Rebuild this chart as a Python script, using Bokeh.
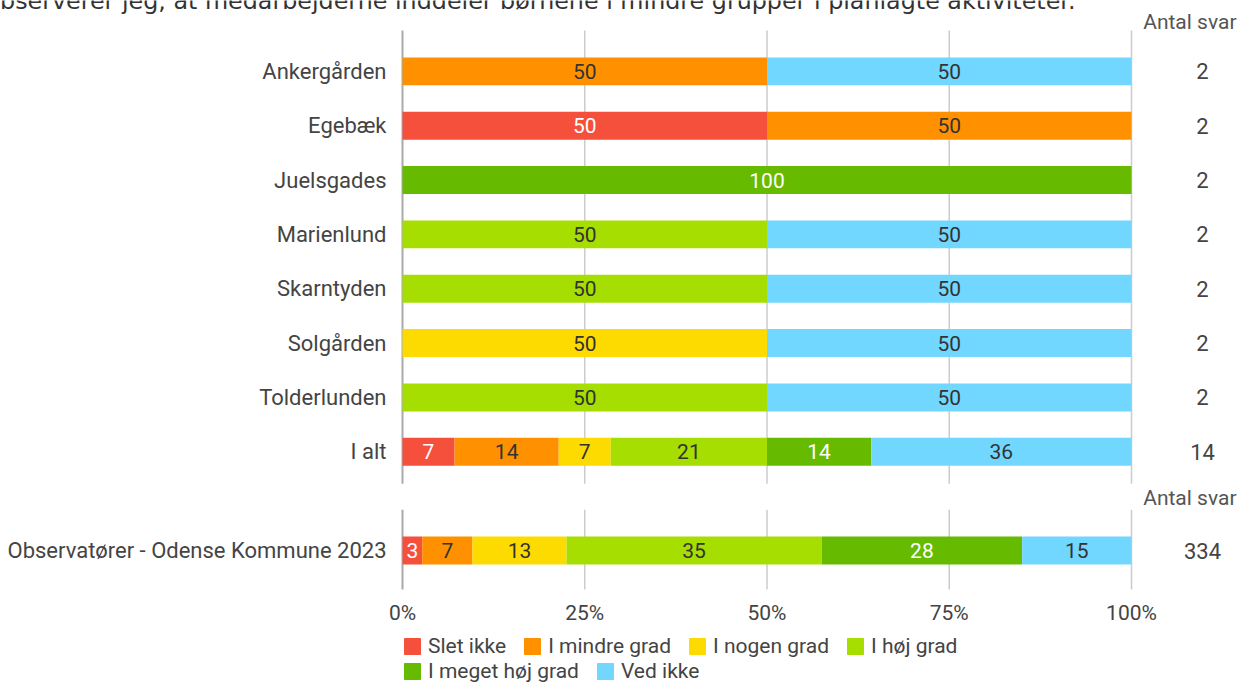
from bokeh.plotting import figure
from bokeh.layouts import column
from bokeh.models import (ColumnDataSource, Range1d, FixedTicker, PrintfTickFormatter,
                          Legend, LegendItem)
from bokeh.core.properties import value
from bokeh.embed import file_html
from bokeh.resources import INLINE

# ---------------- data ----------------
title_text = "observerer jeg, at medarbejderne inddeler børnene i mindre grupper i planlagte aktiviteter."
categories = ["Ankergården", "Egebæk", "Juelsgades", "Marienlund", "Skarntyden",
              "Solgården", "Tolderlunden", "I alt"]
levels = ["Slet ikke", "I mindre grad", "I nogen grad", "I høj grad", "I meget høj grad", "Ved ikke"]
slet_ikke = [0, 50, 0, 0, 0, 0, 0, 7.14]
i_mindre_grad = [50, 50, 0, 0, 0, 0, 0, 14.29]
i_nogen_grad = [0, 0, 0, 0, 0, 50, 0, 7.14]
i_hoej_grad = [0, 0, 0, 50, 50, 0, 50, 21.43]
i_meget_hoej_grad = [0, 0, 100, 0, 0, 0, 0, 14.29]
ved_ikke = [50, 0, 0, 50, 50, 50, 50, 35.71]
antal_svar = [2, 2, 2, 2, 2, 2, 2, 14]

bench_category = "Observatører - Odense Kommune 2023"
bench_values = [2.7, 6.9, 12.9, 35.0, 27.5, 15.0]
bench_antal = 334

count_header = "Antal svar"
tick_values = [0, 25, 50, 75, 100]

colors = ["#F5503C", "#FF9100", "#FEDB00", "#A5DE00", "#66BB00", "#72D7FF"]
label_colors = ["#FFFFFF", "#333333", "#333333", "#333333", "#FFFFFF", "#333333"]

# ---------------- layout constants (pixels) ----------------
W = 1237
H1, H2 = 627, 56
X0_PX, X100_PX = 402, 1131           # px of 0% / 100%
ROW0_PX, ROW_STEP = 71, 54.43        # px of first row centre, row spacing
FRAME_BOTTOM_PX = 595
sx = (X100_PX - X0_PX) / 100.0
def xd(px):
    return (px - X0_PX) / sx
def yd(px):
    return (px - ROW0_PX) / ROW_STEP

bar_h = 28 / ROW_STEP
bench_y = yd(551)

# ---------------- main figure ----------------
p = figure(width=W, height=H1, output_backend="svg", toolbar_location=None,
           x_range=Range1d(xd(0), xd(W)),
           y_range=Range1d(yd(FRAME_BOTTOM_PX), yd(0)),
           y_axis_location=None,
           min_border_left=0, min_border_right=0, min_border_top=0,
           min_border_bottom=H1 - FRAME_BOTTOM_PX)
p.outline_line_color = None
p.xgrid.visible = False
p.ygrid.visible = False
p.background_fill_color = "white"
p.border_fill_color = "white"

# gridlines (two sections)
grid_colors = ["#AAAAAA"] + ["#CCCCCC"] * 4
grid_widths = [2] + [1.5] * 4
p.segment(x0=tick_values, x1=tick_values, y0=[yd(30)] * 5, y1=[yd(484)] * 5,
          line_color=grid_colors, line_width=grid_widths)
p.segment(x0=tick_values, x1=tick_values, y0=[yd(510)] * 5, y1=[yd(590)] * 5,
          line_color=grid_colors, line_width=grid_widths)

# stacked bars
series = [slet_ikke, i_mindre_grad, i_nogen_grad, i_hoej_grad, i_meget_hoej_grad, ved_ikke]
keys = ["s%d" % i for i in range(len(levels))]
ys = list(range(len(categories))) + [bench_y]
data = {"y": ys}
for k, s, b in zip(keys, series, bench_values):
    data[k] = list(s) + [b]
src = ColumnDataSource(data)
renderers = p.hbar_stack(keys, y="y", height=bar_h, color=colors, line_color=None, source=src)

# value labels inside bars
lx, ly, lt, lc = [], [], [], []
for r in range(len(ys)):
    left = 0.0
    for i, k in enumerate(keys):
        v = data[k][r]
        if v > 0:
            lx.append(left + v / 2)
            ly.append(ys[r])
            lt.append(str(int(round(v))))
            lc.append(label_colors[i])
        left += v
p.text(x=lx, y=ly, text=lt, text_color=lc, text_align="center", text_baseline="middle",
       text_font=value("Roboto"), text_font_size="21px")

# category labels
p.text(x=[0] * len(ys), y=ys, text=categories + [bench_category], x_offset=-16,
       text_align="right", text_baseline="middle", text_font=value("Roboto"),
       text_font_size="22px", text_color="#444444")

# counts
count_x = xd(1202)
p.text(x=[count_x] * len(ys), y=ys, text=[str(c) for c in antal_svar + [bench_antal]],
       text_align="center", text_baseline="middle", text_font=value("Roboto"),
       text_font_size="22px", text_color="#444444")
p.text(x=[xd(W - 1)] * 2, y=[yd(22), yd(498)], text=[count_header] * 2,
       text_align="right", text_baseline="middle", text_font=value("Roboto"),
       text_font_size="21px", text_color="#555555")

# title line, clipped at the top edge as in the reference
p.text(x=[xd(-15)], y=[yd(0.5)], text=[title_text], text_align="left",
       text_baseline="alphabetic", text_font=value("DejaVu Sans"),
       text_font_size="23.8px", text_color="#333333")

# x axis
ax = p.xaxis[0]
ax.ticker = FixedTicker(ticks=tick_values)
ax.formatter = PrintfTickFormatter(format="%d%%")
ax.axis_line_color = None
ax.major_tick_line_color = None
ax.minor_tick_line_color = None
ax.major_tick_out = 0
ax.major_tick_in = 0
ax.major_label_standoff = 6
ax.major_label_text_font = "Roboto"
ax.major_label_text_font_size = "21px"
ax.major_label_text_color = "#444444"

# ---------------- legend strip ----------------
q = figure(width=W, height=H2, output_backend="svg", toolbar_location=None,
           x_range=Range1d(0, 1), y_range=Range1d(0, 1),
           x_axis_location=None, y_axis_location=None,
           min_border_left=0, min_border_right=0, min_border_top=0, min_border_bottom=0)
q.outline_line_color = None
q.xgrid.visible = False
q.ygrid.visible = False
# swatch renderers sit outside the visible range; only their legend glyphs show
swatches = [q.hbar(y=[-10], right=[1], height=1, color=c) for c in colors]

def make_legend(idx, vy):
    items = [LegendItem(label=levels[i], renderers=[swatches[i]]) for i in idx]
    lg = Legend(items=items, orientation="horizontal", location=(X0_PX, vy),
                glyph_width=20, glyph_height=20, label_standoff=6, spacing=16,
                label_text_font="Roboto", label_text_font_size="21px",
                label_text_color="#444444", padding=0, margin=0,
                border_line_alpha=0, background_fill_alpha=0, label_height=20)
    q.add_layout(lg, "center")

make_legend([0, 1, 2, 3], 25)
make_legend([4, 5], 0)

layout = column(p, q, spacing=0)
open("out.html", "w").write(file_html(layout, INLINE))
